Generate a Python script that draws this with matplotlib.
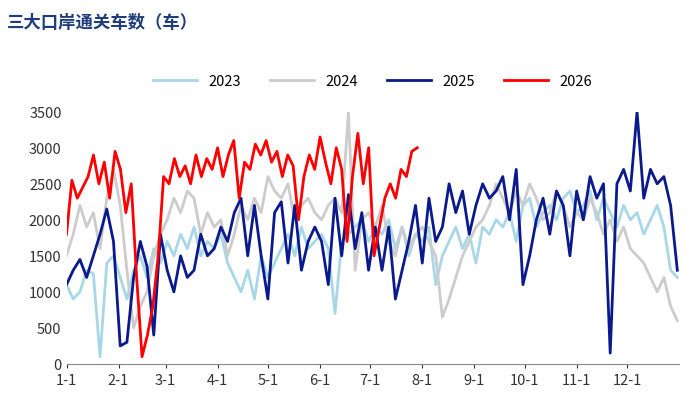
import numpy as np
import matplotlib.pyplot as plt

plt.rcParams['font.family'] = ['Noto Sans CJK SC', 'DejaVu Sans']

month_ticks = [1, 32, 60, 91, 121, 152, 182, 213, 244, 274, 305, 335]
month_labels = [f"{m}-1" for m in range(1, 13)]

v2023 = [1100, 900, 1000, 1300, 1250, 100, 1400, 1500, 1200, 900, 1300, 1500,
         1200, 1600, 1400, 1700, 1500, 1800, 1600, 1900, 1500, 1700, 1600, 1800,
         1400, 1200, 1000, 1300, 900, 1500, 1200, 1400, 1600, 1800, 1500, 1900,
         1600, 1700, 1800, 1600, 700, 1700, 1800, 1900, 2000, 1700, 1900, 1800,
         2000, 1600, 1900, 1500, 1800, 1700, 1900, 1100, 1500, 1700, 1900, 1600,
         1800, 1400, 1900, 1800, 2000, 1900, 2100, 1700, 2200, 2300, 1900, 2100,
         2200, 2000, 2300, 2400, 2100, 2200, 2400, 2000, 2300, 2100, 1900, 2200,
         2000, 2100, 1800, 2000, 2200, 1900, 1300, 1200]
v2024 = [1500, 1800, 2200, 1900, 2100, 1600, 2300, 2700, 2200, 1300, 500, 800,
         1000, 1500, 1800, 2000, 2300, 2100, 2400, 2300, 1800, 2100, 1900, 2000,
         1500, 1800, 2200, 2000, 2300, 2100, 2600, 2400, 2300, 2500, 2000, 2200,
         2300, 2100, 2000, 2200, 2300, 2100, 3500, 1300, 2000, 2100, 1900, 2200,
         1700, 1500, 1900, 1600, 1800, 1900, 1700, 1500, 650, 900, 1200, 1500,
         1700, 1900, 2000, 2200, 2500, 2300, 2100, 2400, 2200, 2500, 2300, 2000,
         2100, 2400, 2200, 1900, 2100, 2000, 2300, 2100, 1800, 2000, 1700, 1900,
         1600, 1500, 1400, 1200, 1000, 1200, 800, 600]
v2025 = [1100, 1300, 1450, 1200, 1500, 1800, 2150, 1700,
         250, 300, 1200, 1700, 1350, 400, 1800, 1300,
         1000, 1500, 1200, 1300, 1800, 1500, 1600, 1900,
         1700, 2100, 2300, 1500, 2200, 1500, 900,
         2100, 2250, 1400, 2200, 1300, 1700, 1900, 1700,
         1100, 2300, 1500, 2350, 1600, 2100, 1300,
         1900, 1300, 1900, 900, 1300, 1700, 2200, 1400,
         2300, 1700, 1900, 2500, 2100, 2400, 1800,
         2200, 2500, 2300, 2400, 2600, 2000, 2700,
         1100, 1500, 2000, 2300, 1800, 2400, 2200, 1500,
         2400, 2000, 2600, 2300, 2500, 150, 2500, 2700,
         2400, 3500, 2300, 2700, 2500, 2600, 2200, 1300]
v2026 = [1800, 2550, 2300, 2450, 2600, 2900, 2500, 2800, 2300, 2950, 2700, 2100,
         2500, 1200, 100, 400, 800, 1500, 2600, 2500, 2850, 2600, 2750, 2500,
         2900, 2600, 2850, 2700, 3000, 2600, 2900, 3100, 2300, 2800, 2700, 3050,
         2900, 3100, 2800, 2950, 2600, 2900, 2750, 2000, 2600, 2900, 2700, 3150,
         2800, 2500, 3000, 2700, 1700, 2600, 3200, 2500, 3000, 1500, 1900, 2300,
         2500, 2300, 2700, 2600, 2950, 3000]

series = [("2023", v2023, "#a8d8e8"), ("2024", v2024, "#cccccc"),
          ("2025", v2025, "#0a1a8c"), ("2026", v2026, "#ff0000")]
end_day = {"2023": 365, "2024": 365, "2025": 365, "2026": 210}

fig, ax = plt.subplots(figsize=(7, 4.1), dpi=100)
for name, vals, col in series:
    x = np.linspace(1, end_day[name], len(vals))
    ax.plot(x, vals, color=col, lw=2, label=name)

ax.set_xlim(1, 366)
ax.set_ylim(0, 3500)
ax.set_yticks(range(0, 3501, 500))
ax.set_xticks(month_ticks)
ax.set_xticklabels(month_labels)
ax.tick_params(labelsize=10.5, length=3, colors="#333333")
for s in ["top", "right", "left"]:
    ax.spines[s].set_visible(False)
ax.spines["bottom"].set_color("#888888")
ax.tick_params(axis="y", length=0)
ax.legend(loc="upper center", bbox_to_anchor=(0.5, 1.2), ncol=4, frameon=False,
          fontsize=10.5, handlelength=3)
fig.text(0.01, 0.965, "三大口岸通关车数（车）", fontsize=12.5, color="#1f3d7a",
         fontweight="bold", va="top")
fig.subplots_adjust(left=0.095, right=0.97, top=0.725, bottom=0.11)
fig.savefig("out.png")
